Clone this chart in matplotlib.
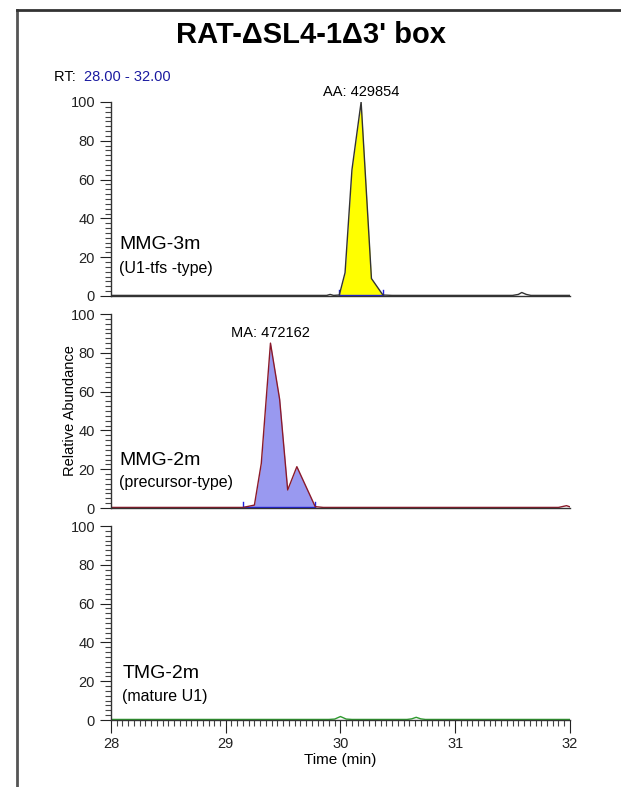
import numpy as np
import matplotlib.pyplot as plt
from matplotlib.lines import Line2D
from matplotlib.ticker import MultipleLocator

plt.rcParams['font.family'] = ['Liberation Sans', 'DejaVu Sans']

# chromatogram traces (time in min, relative abundance)
t_mmg3 = [28.0, 29.88, 29.91, 29.94, 29.99, 30.04, 30.10, 30.18, 30.27, 30.37, 30.45,
          31.50, 31.55, 31.58, 31.62, 31.66, 32.0]
a_mmg3 = [0.3, 0.3, 0.8, 0.3, 0.5, 12, 65, 100, 9, 0.5, 0.3,
          0.3, 0.8, 1.8, 0.8, 0.3, 0.3]
peak_mmg3 = (29.99, 30.37)

t_mmg2 = [28.0, 29.10, 29.15, 29.25, 29.31, 29.39, 29.47, 29.54, 29.62, 29.78, 29.85,
          29.95, 31.90, 31.97, 32.0]
a_mmg2 = [0.3, 0.3, 0.3, 1.5, 23, 85, 56, 9.3, 21.3, 0.7, 0.3,
          0.3, 0.3, 1.2, 0.6]
peak_mmg2 = (29.15, 29.78)

t_tmg2 = [28.0, 29.90, 29.95, 30.00, 30.05, 30.10, 30.58, 30.62, 30.66, 30.70, 30.74, 32.0]
a_tmg2 = [0.3, 0.3, 0.5, 1.8, 0.5, 0.3, 0.3, 0.6, 1.4, 0.6, 0.3, 0.3]

labels = ['MMG-3m', 'MMG-2m', 'TMG-2m']
sublabels = ['(U1-tfs -type)', '(precursor-type)', '(mature U1)']
label_y = [26.3, 24.7, 23.8]
sublabel_y = [14.4, 12.9, 11.9]
annots = ['AA: 429854', 'MA: 472162', None]
annot_pos = [(30.18, 100), (29.39, 85), None]

fig = plt.figure(figsize=(6.21, 7.87), dpi=100)

left, width = 0.1787, 0.7391
bottoms = [0.6239, 0.3545, 0.0851]
height = 0.2465

traces = [(t_mmg3, a_mmg3, peak_mmg3, '#333333', '#ffff00'),
          (t_mmg2, a_mmg2, peak_mmg2, '#8b1a2a', '#9999f0'),
          (t_tmg2, a_tmg2, None, '#2e9a2e', None)]

for i, (t, a, pk, lc, fc) in enumerate(traces):
    ax = fig.add_axes([left, bottoms[i], width, height])
    t = np.array(t)
    a = np.array(a)
    if pk is not None:
        m = (t >= pk[0]) & (t <= pk[1])
        ax.fill_between(t[m], a[m], 0, color=fc, lw=0)
        ax.plot([pk[0], pk[1]], [0.3, 0.3], color='#2020e0', lw=1)
        for p in pk:
            ax.plot([p, p], [0, 3], color='#2020e0', lw=1)
    ax.plot(t, a, color=lc, lw=1)
    ax.set_xlim(28, 32)
    ax.set_ylim(0, 100)
    ax.spines['top'].set_visible(False)
    ax.spines['right'].set_visible(False)
    for s in ['left', 'bottom']:
        ax.spines[s].set_color('#333333')
        ax.spines[s].set_linewidth(1)
    ax.yaxis.set_major_locator(MultipleLocator(20))
    ax.yaxis.set_minor_locator(MultipleLocator(2.5))
    ax.tick_params(axis='y', which='major', length=8, width=0.8, labelsize=10.5, colors='#222222')
    ax.tick_params(axis='y', which='minor', length=4, width=0.8, colors='#444444')
    if i < 2:
        ax.set_xticks([])
    else:
        ax.xaxis.set_major_locator(MultipleLocator(1))
        ax.xaxis.set_minor_locator(MultipleLocator(0.05))
        ax.tick_params(axis='x', which='major', length=9, width=0.8, labelsize=10.5, colors='#222222')
        ax.tick_params(axis='x', which='minor', length=4, width=0.8, colors='#444444')
        ax.set_xlabel('Time (min)', fontsize=11, labelpad=1)
    ax.patch.set_alpha(0)
    lx = 28.07 if i < 2 else 28.10
    ax.text(lx, label_y[i], labels[i], fontsize=14, va='center', ha='left')
    ax.text(lx, sublabel_y[i], sublabels[i], fontsize=11.5, va='center', ha='left')
    if annots[i]:
        ax.annotate(annots[i], annot_pos[i], xytext=(0, 2), textcoords='offset points',
                    ha='center', va='bottom', fontsize=10.5, annotation_clip=False)
    if i == 1:
        ax.set_ylabel('Relative Abundance', fontsize=10.5, labelpad=-5)

fig.text(0.5, 0.956, "RAT-\u0394SL4-1\u03943' box", ha='center', va='center',
         fontsize=21, fontweight='bold')
fig.text(0.087, 0.902, 'RT: ', fontsize=10.5, ha='left', va='center')
fig.text(0.1353, 0.902, '28.00 - 32.00', fontsize=10.5, ha='left', va='center', color='#1a1aa0')

# page border
fig.add_artist(Line2D([0.027, 0.027], [0.0, 0.987], transform=fig.transFigure,
                      color='#555555', lw=2))
fig.add_artist(Line2D([0.027, 1.0], [0.987, 0.987], transform=fig.transFigure,
                      color='#333333', lw=2))

fig.savefig('out.png', dpi=100)
